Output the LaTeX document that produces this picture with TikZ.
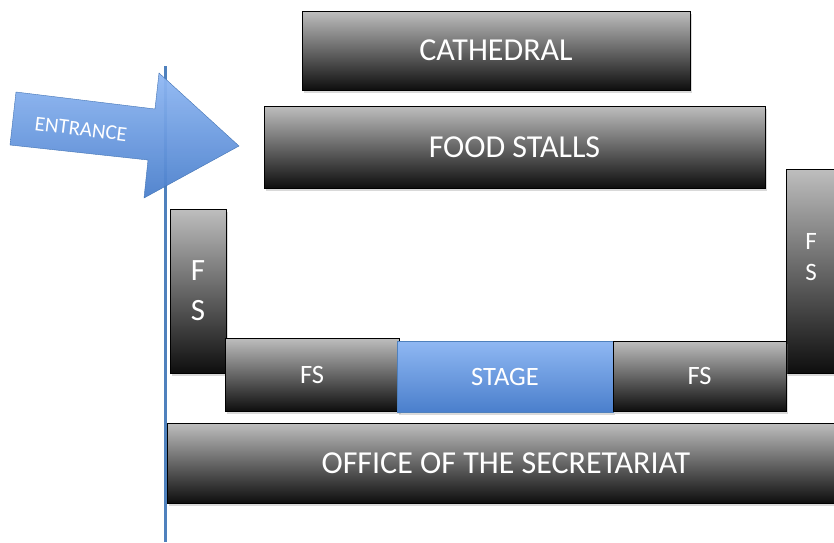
\documentclass[tikz,border=0pt]{standalone}
\usepackage{fontspec}
\setmainfont{Carlito}
\usetikzlibrary{shadows}

\definecolor{stalltop}{HTML}{BEBEBE}
\definecolor{stallbot}{HTML}{0E0E0E}
\definecolor{stagetop}{HTML}{90B8F3}
\definecolor{stagebot}{HTML}{4A7FCC}
\definecolor{lineblue}{HTML}{4F81BD}
\definecolor{arrowedge}{HTML}{4273B4}

\begin{document}
\begin{tikzpicture}[x=1pt,y=-1pt]
\tikzstyle{stall}=[draw=black,top color=stalltop,bottom color=stallbot,text=white,inner sep=0pt,outer sep=0pt,drop shadow={shadow xshift=1.5pt,shadow yshift=-2.5pt,opacity=.3}]
\tikzstyle{stagebox}=[stall,draw=lineblue,top color=stagetop,bottom color=stagebot]
\tikzstyle{big}=[font=\fontsize{32}{34}\selectfont]
\tikzstyle{small}=[font=\fontsize{26.5}{28}\selectfont]

\useasboundingbox (0,0) rectangle (834,542);

% entrance line and arrow
\draw[lineblue,line width=3pt] (165,66) -- (165,542);
\draw[arrowedge,fill opacity=.95,top color=stagetop,bottom color=stagebot] (16,92) -- (155,109) -- (159,73) -- (239,146) -- (144,198) -- (148,160) -- (10,145) -- cycle;
\node (entrance) [text=white,rotate=-7,font=\fontsize{21}{23}\selectfont] at (81,129) {ENTRANCE};

% top row
\node (cathedral) [stall,big,minimum width=388pt,minimum height=79pt] at (496,50.5) {CATHEDRAL};
\node (food) [stall,big,minimum width=501pt,minimum height=82pt] at (514.5,147) {FOOD STALLS};

% side stalls
\node (fsleft) [stall,minimum width=56pt,minimum height=164pt,align=center,font=\fontsize{31}{40}\selectfont] at (198,291) {F\\S};
\node (fsright) [stall,minimum width=50pt,minimum height=204pt] at (811,271) {};
\node [text=white,align=center,font=\fontsize{25}{31}\selectfont] at (811,257) {F\\S};

% bottom row
\node (fsbl) [stall,small,minimum width=174pt,minimum height=73pt] at (312,374.5) {FS};
\node (stage) [stagebox,small,minimum width=216pt,minimum height=71pt] at (505,376.5) {STAGE};
\node (fsbr) [stall,small,minimum width=173pt,minimum height=70pt] at (699.5,376) {FS};

\node (office) [stall,big,minimum width=678pt,minimum height=80pt] at (506,463) {OFFICE OF THE SECRETARIAT};

\end{tikzpicture}
\end{document}
